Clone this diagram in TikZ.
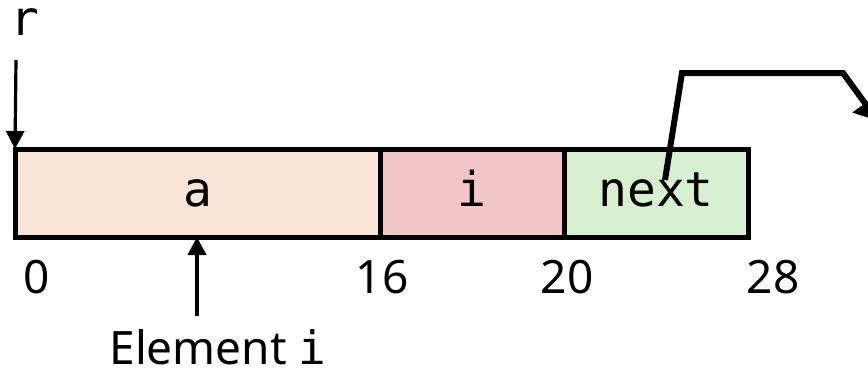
\documentclass[tikz,border=0pt]{standalone}
\usepackage{fontspec}
\setmainfont{Noto Sans}
\setmonofont{DejaVu Sans Mono}
\usetikzlibrary{arrows.meta}
\definecolor{aFill}{HTML}{FBE5D6}
\definecolor{iFill}{HTML}{F2C6C6}
\definecolor{nextFill}{HTML}{D6F0D0}
\begin{document}
\begin{tikzpicture}[
    x=0.5pt, y=-0.5pt,
    field/.style={draw, line width=2.5pt, inner sep=0pt, outer sep=0pt, minimum height=44pt, text height=1.4em, text depth=0.06em, font=\fontsize{24}{28}\selectfont\ttfamily},
    offs/.style={font=\fontsize{23}{27}\selectfont},
    ptr/.style={line width=#1, -{Triangle[length=9pt, width=9pt]}}
]
\useasboundingbox (0,0) rectangle (868,377);
\node[field, fill=aFill, minimum width=182.5pt] (a) at (197.5,193) {a};
\node[field, fill=iFill, minimum width=92pt] (i) at (472,193) {i};
\node[field, fill=nextFill, minimum width=92pt] (next) at (656,193) {next};
\node[font=\fontsize{24}{28}\selectfont\ttfamily] (r) at (25,22) {r};
\node[offs] (o0) at (37,277) {0};
\node[offs] (o16) at (382,277) {16};
\node[offs] (o20) at (567,277) {20};
\node[offs] (o28) at (773,277) {28};
\node[offs] (elem) at (218,347) {Element \texttt{i}};
\coordinate (rtop) at (16,60);
\coordinate (etail) at (197,316);
\draw[ptr=1.6pt] (rtop) -- (a.north west);
\draw[ptr=2pt] (etail) -- (etail |- a.south);
\draw[line width=3pt, -{Triangle[length=11pt, width=15pt]}] (665,180) -- (682,73) -- (843,73) -- (878,121);
\end{tikzpicture}
\end{document}
